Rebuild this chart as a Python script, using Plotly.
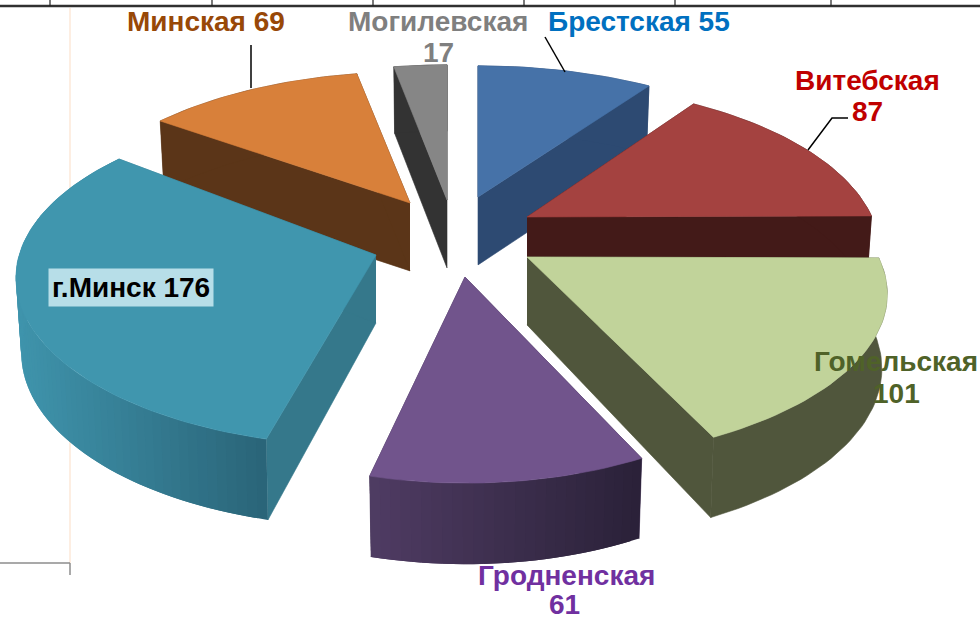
import math
import plotly.graph_objects as go

# --- data
regions = ["Брестская", "Витебская", "Гомельская", "Гродненская", "г.Минск", "Минская", "Могилевская"]
values = [55, 87, 101, 61, 176, 69, 17]

# --- styles and layout of the exploded 3-D pie
top_colors = ["#4672a8", "#a44240", "#c1d39a", "#71548c", "#4096ae", "#d8803a", "#868686"]
side_colors = ["#2d4a72", "#431a18", "#50563c", "#3f2f50", "#35788b", "#5b3518", "#333333"]
rim_grad = [None, None, None, ("#4f3c63", "#2a2138"), ("#3f94ac", "#2a6478"), None, None]
apex_px = [(478, 197), (527, 217), (527, 257), (465, 277), (376, 255), (410, 203), (447, 200)]
arc_shift = [(0, 0), (-1, -2), (-4, 0), (1, 1), (-9, -14), (0, 0), (0, -4)]
arc_sx = [1.02, 1.0, 1.03, 0.95, 0.993, 1.0, 1.0]
draw_order = [6, 5, 0, 1, 4, 2, 3]
RX, RY, PERSP, DEPTH = 345, 160, 0.22, 73
label_lines = [["Брестская 55"], ["Витебская", "87"], ["Гомельская", "101"], ["Гродненская", "61"],
               ["г.Минск 176"], ["Минская 69"], ["Могилевская", "17"]]
label_pos = [[(639, 21)], [(867, 80), (867, 111)], [(896, 361), (896, 393)], [(566, 575), (564, 604)],
             [(131, 287)], [(206, 21)], [(438, 21), (438, 52)]]
label_box = {"Гродненская": 31, "61": 26}
label_col = ["#0070c0", "#c00000", "#4f6228", "#7030a0", "#000000", "#984807", "#7f7f7f"]
leaders = [[(545, 37), (565, 72)], [(848, 118), (832, 118), (808, 150)], [(251, 45), (251, 88)]]


def proj(i, theta, depth=False):
    u, v = math.sin(theta), math.cos(theta)
    s = 1 / (1 + PERSP * v)
    x = RX * u * s * arc_sx[i] + arc_shift[i][0]
    y = -RY * v * s + arc_shift[i][1]
    if depth:
        x *= 0.985
        y += DEPTH / (1 + 0.1 * v)
    return apex_px[i][0] + x, apex_px[i][1] + y


def hex2rgb(h):
    return tuple(int(h[i:i + 2], 16) for i in (1, 3, 5))


def poly(fig, pts, color, width=0.6):
    fig.add_trace(go.Scatter(x=[p[0] for p in pts], y=[p[1] for p in pts], mode="lines",
                             fill="toself", fillcolor=color, line=dict(color=color, width=width),
                             hoverinfo="skip", showlegend=False))


fig = go.Figure()
total = sum(values)
starts = []
acc = 0.0
for val in values:
    starts.append(acc)
    acc += val / total * 2 * math.pi

for i in draw_order:
    a0 = starts[i]
    a1 = a0 + values[i] / total * 2 * math.pi
    apex = apex_px[i]
    n = max(8, int((a1 - a0) * 40))
    ts = [a0 + (a1 - a0) * k / n for k in range(n + 1)]
    bottom_apex = (apex[0], apex[1] + DEPTH * 0.93)
    # radial walls
    for t in (a0, a1):
        poly(fig, [apex, proj(i, t), proj(i, t, True), bottom_apex], side_colors[i])
    # rim wall
    if rim_grad[i] is None:
        poly(fig, [proj(i, t) for t in ts] + [proj(i, t, True) for t in reversed(ts)], side_colors[i])
    else:
        c0, c1 = map(hex2rgb, rim_grad[i])
        xs = [proj(i, t)[0] for t in ts]
        lo, hi = min(xs), max(xs)
        for k in range(n):
            f = ((xs[k] + xs[k + 1]) / 2 - lo) / (hi - lo)
            col = "rgb(%d,%d,%d)" % tuple(round(c0[j] + (c1[j] - c0[j]) * f) for j in range(3))
            # each strip overlaps the next one so that no seams show
            e = ts[min(k + 2, n)]
            poly(fig, [proj(i, ts[k]), proj(i, e), proj(i, e, True), proj(i, ts[k], True)], col, width=0)
    # top face
    poly(fig, [apex] + [proj(i, t) for t in ts] + [apex], top_colors[i])

for pts in leaders:
    fig.add_trace(go.Scatter(x=[p[0] for p in pts], y=[p[1] for p in pts], mode="lines",
                             line=dict(color="#000000", width=1.5), hoverinfo="skip", showlegend=False))

for i, lines in enumerate(label_lines):
    extra = {}
    if regions[i] == "г.Минск":
        extra = dict(bgcolor="#b7dee8", borderpad=3)
    for txt, pos in zip(lines, label_pos[i]):
        box = dict(height=label_box[txt]) if txt in label_box else {}
        fig.add_annotation(x=pos[0], y=pos[1], text="<b>%s</b>" % txt, showarrow=False, borderpad=extra.get("borderpad", 0),
                           bgcolor=extra.get("bgcolor", "rgba(0,0,0,0)"),
                           font=dict(family="Liberation Sans", size=28, color=label_col[i]), **box)

# fragments of the surrounding frame
shapes = [
    dict(type="line", layer="below", x0=0, x1=980, y0=6, y1=6, line=dict(color="#303030", width=2.5)),
    dict(type="line", layer="below", x0=70, x1=70, y0=8, y1=563, line=dict(color="#fde9d9", width=1.5)),
    dict(type="line", layer="below", x0=0, x1=70, y0=563, y1=563, line=dict(color="#8c8c8c", width=1.5)),
    dict(type="line", layer="below", x0=70, x1=70, y0=563, y1=575, line=dict(color="#8c8c8c", width=1.5)),
]
for tx in [50, 212, 373, 524, 675, 831]:
    shapes.append(dict(type="line", layer="below", x0=tx, x1=tx, y0=0, y1=6, line=dict(color="#202020", width=1.2)))

fig.update_layout(width=980, height=618, margin=dict(l=0, r=0, t=0, b=0), autosize=False,
                  paper_bgcolor="white", plot_bgcolor="white", shapes=shapes, showlegend=False,
                  xaxis=dict(range=[0, 980], visible=False, fixedrange=True),
                  yaxis=dict(range=[618, 0], visible=False, fixedrange=True))
fig.write_html("out.html", config={"displayModeBar": False},
               post_script="document.body.style.margin='0';document.body.style.overflow='hidden';")
